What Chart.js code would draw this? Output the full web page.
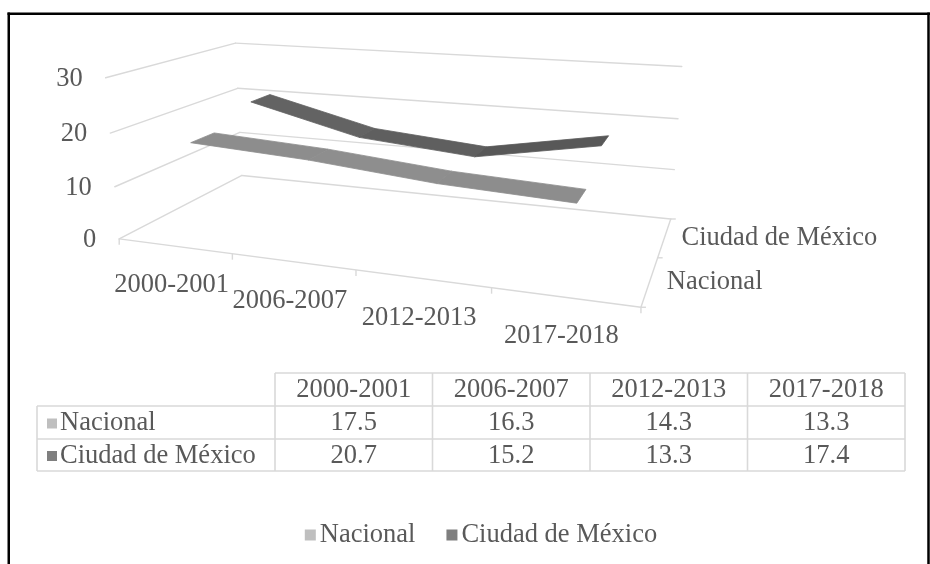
<!DOCTYPE html>
<html>
<head>
<meta charset="utf-8">
<script src="https://cdn.jsdelivr.net/npm/chart.js@4/dist/chart.umd.min.js"></script>
<style>
  html, body { margin: 0; padding: 0; background: #ffffff; }
  #wrap { position: relative; width: 930px; height: 564px; }
  canvas { display: block; }
</style>
</head>
<body>
<div id="wrap"><canvas id="chart" width="930" height="564"></canvas></div>
<script>
// ---- data ----
const categories = ['2000-2001', '2006-2007', '2012-2013', '2017-2018'];
const seriesNames = ['Nacional', 'Ciudad de México'];
const nacional = [17.5, 16.3, 14.3, 13.3];
const ciudadDeMexico = [20.7, 15.2, 13.3, 17.4];
const yTicks = [0, 10, 20, 30];

// ---- look ----
const FONT = '26.5px "Liberation Serif", "Times New Roman", serif';
const TEXT = '#595959';
const GRID = '#d9d9d9';
const ribbonBase = [140, 93];          // grey level of each ribbon
const markerColors = ['#bfbfbf', '#7f7f7f'];
const RIBBON_HALF = 0.09;              // half depth of a ribbon (box units)

// Box corners of the 3-D plot (u = category axis, d = depth, h = value axis),
// each with its position on the page; a camera is fitted to them.
const boxCalibration = [
  [0, 0, 0, 120, 238.5], [0, 1, 0, 242, 176], [1, 1, 0, 670, 219], [1, 0, 0, 640, 307],
  [0.25, 0, 0, 233, 254], [0.5, 0, 0, 355.5, 271], [0.75, 0, 0, 491, 288], [1, 0.5, 0, 660, 257],
  [0, 0, 1 / 3, 114, 186], [0, 0, 2 / 3, 110, 133], [0, 0, 1, 106, 78],
  [0, 1, 2 / 3, 237, 88], [0, 1, 1, 236, 43],
  [1, 1, 1 / 3, 674, 169], [1, 1, 2 / 3, 678, 119], [1, 1, 1, 682, 67]
];

function fitCamera(pairs) {
  const cx = 400, cy = 200, s = 200, n = 11;
  const M = Array.from({ length: n }, () => new Array(n + 1).fill(0));
  const add = (r, b) => {
    for (let i = 0; i < n; i++) {
      for (let j = 0; j < n; j++) M[i][j] += r[i] * r[j];
      M[i][n] += r[i] * b;
    }
  };
  for (const [u, d, h, x, y] of pairs) {
    const X = (x - cx) / s, Y = (y - cy) / s;
    add([u, d, h, 1, 0, 0, 0, 0, -X * u, -X * d, -X * h], X);
    add([0, 0, 0, 0, u, d, h, 1, -Y * u, -Y * d, -Y * h], Y);
  }
  for (let c = 0; c < n; c++) {
    let p = c;
    for (let r = c + 1; r < n; r++) if (Math.abs(M[r][c]) > Math.abs(M[p][c])) p = r;
    [M[c], M[p]] = [M[p], M[c]];
    for (let r = 0; r < n; r++) {
      if (r === c) continue;
      const f = M[r][c] / M[c][c];
      for (let j = c; j <= n; j++) M[r][j] -= f * M[c][j];
    }
  }
  const q = M.map((row, i) => row[n] / row[i]);
  return (u, d, h) => {
    const w = q[8] * u + q[9] * d + q[10] * h + 1;
    return [cx + s * (q[0] * u + q[1] * d + q[2] * h + q[3]) / w,
            cy + s * (q[4] * u + q[5] * d + q[6] * h + q[7]) / w];
  };
}
const project = fitCamera(boxCalibration);

function line(ctx, a, b) {
  ctx.beginPath(); ctx.moveTo(a[0], a[1]); ctx.lineTo(b[0], b[1]); ctx.stroke();
}

const perspective3d = {
  id: 'perspective3d',
  afterDraw(chart) {
    const ctx = chart.ctx;
    const xs = chart.scales.x, ys = chart.scales.y;
    const U = v => (xs.getPixelForValue(v) - xs.left) / (xs.right - xs.left);
    const H = v => (ys.bottom - ys.getPixelForValue(v)) / (ys.bottom - ys.top);
    const nS = chart.data.datasets.length;
    const depthOf = k => 1 - (nS - 1 - k + 0.5) / nS; // first series in front

    ctx.save();
    ctx.fillStyle = '#ffffff';
    ctx.fillRect(0, 0, chart.width, chart.height);

    // walls and floor
    ctx.strokeStyle = GRID; ctx.lineWidth = 1.4; ctx.lineCap = 'round';
    yTicks.forEach(v => {
      const h = H(v);
      line(ctx, project(0, 0, h), project(0, 1, h));
      line(ctx, project(0, 1, h), project(1, 1, h));
    });
    line(ctx, project(0, 0, 0), project(1, 0, 0));
    line(ctx, project(1, 0, 0), project(1, 1, 0));
    ctx.lineCap = 'butt';
    for (let i = 0; i <= categories.length; i++) {
      const p = project(U(i - 0.5), 0, 0);
      line(ctx, p, [p[0], p[1] + 6]);
    }
    for (let k = 0; k <= nS; k++) {
      const p = project(1, k / nS, 0);
      line(ctx, p, [p[0] + 5, p[1]]);
    }

    // axis text
    ctx.font = FONT; ctx.fillStyle = TEXT; ctx.textBaseline = 'middle';
    ctx.textAlign = 'right';
    yTicks.forEach(v => {
      const p = project(0, 0, H(v));
      ctx.fillText(String(v), p[0] - 23, p[1] + 1);
    });
    ctx.textAlign = 'center';
    categories.forEach((c, i) => {
      const p = project(U(i), 0, 0);
      ctx.fillText(c, p[0] - 3, p[1] + 39);
    });
    ctx.textAlign = 'left';
    seriesNames.forEach((s, k) => {
      const p = project(1, depthOf(k), 0);
      ctx.fillText(s, p[0] + 17, p[1] + 1);
    });

    // ribbons, back to front
    for (let k = nS - 1; k >= 0; k--) {
      const vals = chart.data.datasets[k].data;
      const d = depthOf(k);
      for (let i = 0; i < vals.length - 1; i++) {
        const u0 = U(i), u1 = U(i + 1), h0 = H(vals[i]), h1 = H(vals[i + 1]);
        const g = Math.round(ribbonBase[k] + 1.1 * (vals[i] - vals[i + 1]));
        const col = `rgb(${g},${g},${g})`;
        const pts = [project(u0, d - RIBBON_HALF, h0), project(u1, d - RIBBON_HALF, h1),
                     project(u1, d + RIBBON_HALF, h1), project(u0, d + RIBBON_HALF, h0)];
        ctx.beginPath();
        pts.forEach((p, j) => j ? ctx.lineTo(p[0], p[1]) : ctx.moveTo(p[0], p[1]));
        ctx.closePath();
        ctx.fillStyle = col; ctx.strokeStyle = col; ctx.lineWidth = 0.8;
        ctx.fill(); ctx.stroke();
      }
    }

    // data table
    const colX = [37, 275, 432.5, 590, 747.5, 905];
    const rowY = [373, 406, 439, 471];
    ctx.strokeStyle = GRID; ctx.lineWidth = 1.6;
    line(ctx, [colX[1], rowY[0]], [colX[5], rowY[0]]);
    for (let r = 1; r < rowY.length; r++) line(ctx, [colX[0], rowY[r]], [colX[5], rowY[r]]);
    line(ctx, [colX[0], rowY[1]], [colX[0], rowY[3]]);
    for (let c = 1; c < colX.length; c++) line(ctx, [colX[c], rowY[0]], [colX[c], rowY[3]]);
    ctx.fillStyle = TEXT; ctx.textAlign = 'center';
    categories.forEach((c, i) => {
      ctx.fillText(c, (colX[i + 1] + colX[i + 2]) / 2, (rowY[0] + rowY[1]) / 2 + 1);
    });
    chart.data.datasets.forEach((ds, k) => {
      const cy = (rowY[k + 1] + rowY[k + 2]) / 2 + 1;
      ctx.fillStyle = markerColors[k];
      ctx.fillRect(47, cy - 5, 10, 10);
      ctx.fillStyle = TEXT; ctx.textAlign = 'left';
      ctx.fillText(ds.label, 60, cy);
      ctx.textAlign = 'center';
      ds.data.forEach((v, i) => ctx.fillText(v.toFixed(1), (colX[i + 1] + colX[i + 2]) / 2, cy));
    });

    // legend
    const ly = 535, box = 11, gap = 4, spacing = 31;
    const w = seriesNames.map(s => ctx.measureText(s).width);
    const total = w.reduce((a, b) => a + b, 0) + nS * (box + gap) + (nS - 1) * spacing;
    let lx = 481 - total / 2;
    ctx.textAlign = 'left';
    seriesNames.forEach((s, k) => {
      ctx.fillStyle = markerColors[k];
      ctx.fillRect(lx, ly - box / 2, box, box);
      ctx.fillStyle = TEXT;
      ctx.fillText(s, lx + box + gap, ly);
      lx += box + gap + w[k] + spacing;
    });

    // outer frame
    ctx.strokeStyle = '#000000'; ctx.lineWidth = 2.5;
    line(ctx, [7.5, 13.75], [930, 13.75]);
    line(ctx, [8.75, 12.5], [8.75, 564]);
    line(ctx, [928.5, 12.5], [928.5, 564]);
    ctx.restore();
  }
};

new Chart(document.getElementById('chart').getContext('2d'), {
  type: 'line',
  data: {
    labels: categories,
    datasets: [
      { label: seriesNames[0], data: nacional, showLine: false, pointRadius: 0 },
      { label: seriesNames[1], data: ciudadDeMexico, showLine: false, pointRadius: 0 }
    ]
  },
  options: {
    responsive: false,
    animation: false,
    events: [],
    layout: { padding: 0 },
    plugins: { legend: { display: false }, tooltip: { enabled: false } },
    scales: {
      x: { type: 'category', offset: true, display: false },
      y: { min: 0, max: 30, ticks: { stepSize: 10 }, display: false }
    }
  },
  plugins: [perspective3d]
});
</script>
</body>
</html>
